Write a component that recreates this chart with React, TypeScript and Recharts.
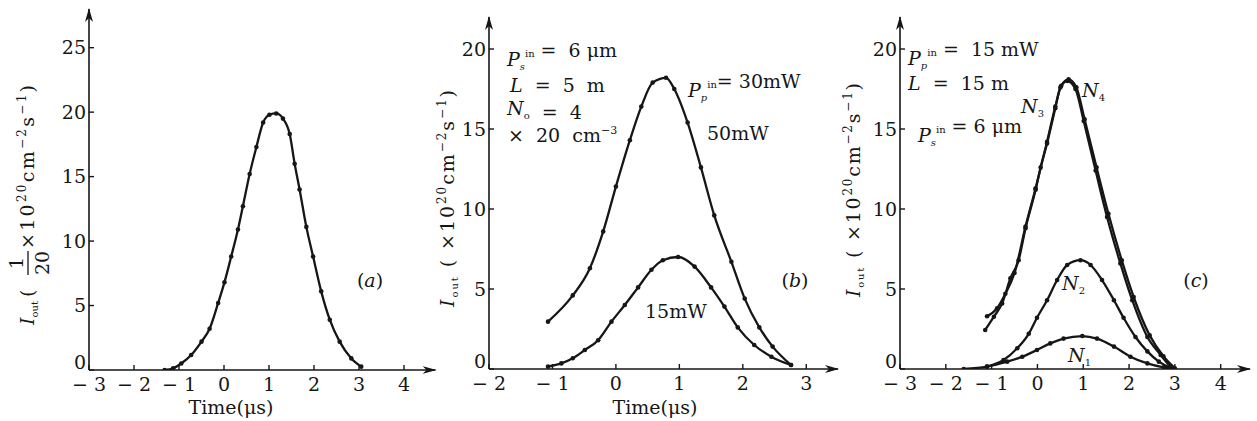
import React from 'react';
import { LineChart, Line, XAxis, YAxis } from 'recharts';

const FONT = "'DejaVu Serif', 'Liberation Serif', 'Times New Roman', serif";
const INK = '#161616';

// panel (a) – single pulse
const aTime = [-1.32, -1.13, -0.95, -0.73, -0.5, -0.32, -0.13, 0.01, 0.16, 0.31, 0.42, 0.57, 0.72, 0.87, 1.01, 1.16, 1.31, 1.46, 1.57, 1.68, 1.83, 1.98, 2.16, 2.35, 2.57, 2.83, 3.05];
const aOut = [0, 0.13, 0.5, 1.16, 2.2, 3.2, 5.2, 6.8, 8.8, 10.9, 12.7, 15.2, 17.3, 19.2, 19.8, 19.9, 19.5, 18.3, 16.0, 14.0, 11.1, 8.8, 6.1, 3.9, 2.2, 0.9, 0.26];

// panel (b) – pump power 30/50 mW and 15 mW
const b30Time = [-1.07, -0.68, -0.41, -0.2, 0.0, 0.22, 0.4, 0.58, 0.79, 0.92, 1.13, 1.34, 1.55, 1.82, 2.03, 2.26, 2.47, 2.76];
const b30Out = [2.96, 4.6, 6.3, 8.6, 11.4, 14.3, 16.4, 17.9, 18.2, 17.5, 15.4, 12.6, 9.6, 6.7, 4.4, 2.6, 1.4, 0.25];
const b15Time = [-1.07, -0.86, -0.68, -0.49, -0.28, -0.07, 0.14, 0.35, 0.56, 0.74, 0.98, 1.24, 1.5, 1.71, 1.92, 2.18, 2.45, 2.76];
const b15Out = [0.15, 0.35, 0.67, 1.19, 1.8, 2.96, 4.0, 5.1, 6.2, 6.8, 7.0, 6.4, 5.1, 3.9, 2.6, 1.5, 0.77, 0.25];

// panel (c) – doping N1..N4
const cN4Time = [-1.1, -0.88, -0.7, -0.5, -0.26, -0.04, 0.21, 0.39, 0.52, 0.68, 0.85, 1.03, 1.29, 1.55, 1.84, 2.1, 2.45, 2.75, 3.0];
const cN4Out = [3.3, 3.8, 4.7, 6.0, 8.9, 11.3, 14.2, 16.4, 17.7, 18.1, 17.6, 15.6, 12.6, 9.7, 6.8, 4.5, 2.1, 0.8, 0.05];
const cN3Time = [-1.14, -0.95, -0.77, -0.59, -0.41, -0.26, -0.04, 0.07, 0.21, 0.39, 0.5, 0.65, 0.83, 1.01, 1.27, 1.52, 1.81, 2.07, 2.4, 2.69, 2.9];
const cN3Out = [2.44, 3.27, 4.1, 5.67, 6.8, 8.8, 11.2, 12.6, 14.1, 16.3, 17.6, 18.0, 17.5, 15.5, 12.4, 9.5, 6.6, 4.3, 2.0, 0.88, 0.15];
const cN2Time = [-1.1, -0.74, -0.44, -0.19, -0.01, 0.21, 0.43, 0.65, 0.94, 1.16, 1.41, 1.67, 1.88, 2.14, 2.4, 2.65, 2.94];
const cN2Out = [0.15, 0.56, 1.3, 2.2, 3.2, 4.3, 5.56, 6.5, 6.8, 6.5, 5.56, 4.3, 3.2, 2.0, 1.1, 0.46, 0.04];
const cN1Time = [-1.61, -1.1, -0.66, -0.33, -0.01, 0.28, 0.57, 0.98, 1.3, 1.67, 2.03, 2.4, 2.76, 2.97];
const cN1Out = [0, 0.15, 0.46, 0.77, 1.19, 1.6, 1.9, 2.06, 1.9, 1.4, 0.77, 0.35, 0.1, 0.02];

const aXTicks = [-3, -2, -1, 0, 1, 2, 3, 4];
const aYTicks = [0, 5, 10, 15, 20, 25];
const bXTicks = [-2, -1, 0, 1, 2, 3];
const bYTicks = [0, 5, 10, 15, 20];
const cXTicks = [-3, -2, -1, 0, 1, 2, 3, 4];
const cYTicks = [0, 5, 10, 15, 20];

const pts = (xs: number[], ys: number[]) => xs.map((t, i) => ({ t, v: ys[i] }));
const fmt = (v: number) => (v < 0 ? `− ${-v}` : `${v}`);

const XTick = (p: any) => {
  const axisY = p.y - 6;
  return (
    <g>
      <line x1={p.x} x2={p.x} y1={axisY} y2={axisY - 5} stroke={INK} strokeWidth={1.4} />
      <text x={p.x} y={axisY + 21} textAnchor="middle" fontSize={19} fontFamily={FONT} fill={INK} style={{ whiteSpace: 'pre' }}>
        {fmt(p.payload.value)}
      </text>
    </g>
  );
};

const YTick = (p: any) => {
  const axisX = p.x + 4;
  // the zero label sits a little above the x axis, as in the print
  const lift = p.payload.value === 0 ? -8 : 0;
  return (
    <g>
      <line x1={axisX} x2={axisX + 5} y1={p.y} y2={p.y} stroke={INK} strokeWidth={1.4} />
      <text x={axisX - 3} y={p.y + lift} dy="0.35em" textAnchor="end" fontSize={19} fontFamily={FONT} fill={INK}>
        {p.payload.value}
      </text>
    </g>
  );
};

const xLine = { stroke: INK, strokeWidth: 1.6, markerEnd: 'url(#axArrow)' };
const yLine = { stroke: INK, strokeWidth: 1.6, markerStart: 'url(#axArrow)' };
const dot = { r: 2.3, fill: INK, stroke: INK, strokeWidth: 0 };

const series = (key: string, data: { t: number; v: number }[]) => (
  <Line key={key} data={data} dataKey="v" type="monotone" stroke={INK} strokeWidth={2.3} dot={dot} activeDot={false} isAnimationActive={false} />
);

// P with a subscript followed by the superscript "in"
const PSym = ({ sub }: { sub: string }) => (
  <>
    <tspan fontStyle="italic">P</tspan>
    <tspan fontSize={10} dy={4} fontStyle="italic">{sub}</tspan>
    <tspan fontSize={10} dy={-13}>in</tspan>
    <tspan dy={9}>{''}</tspan>
  </>
);

const NSym = ({ sub }: { sub: string }) => (
  <>
    <tspan fontStyle="italic">N</tspan>
    <tspan fontSize={10} dy={4}>{sub}</tspan>
    <tspan dy={-4}>{''}</tspan>
  </>
);

const TitleTail = () => (
  <>
    <tspan>×10</tspan>
    <tspan fontSize={12} dy={-8}>20</tspan>
    <tspan dy={8}>cm</tspan>
    <tspan fontSize={12} dy={-8}>−2</tspan>
    <tspan dy={8}>s</tspan>
    <tspan fontSize={12} dy={-8}>−1</tspan>
    <tspan dy={8}>)</tspan>
  </>
);

const txt = { fontFamily: FONT, fontSize: 19, fill: INK, style: { whiteSpace: 'pre' as const } };

const Overlay = () => (
  <svg width={1257} height={421} style={{ position: 'absolute', left: 0, top: 0, pointerEvents: 'none' }}>
    <defs>
      <marker id="axArrow" viewBox="0 0 14 8" refX={13} refY={4} markerWidth={14} markerHeight={8} markerUnits="userSpaceOnUse" orient="auto-start-reverse">
        <path d="M0,0 L14,4 L0,8 L4,4 z" fill={INK} />
      </marker>
    </defs>

    {/* panel (a) */}
    <g transform="translate(34,325) rotate(-90)">
      <text x={0} y={0} {...txt}>
        <tspan fontStyle="italic">I</tspan>
        <tspan fontSize={10} dy={4}>out</tspan>
        <tspan dy={-4} dx={4}>(</tspan>
      </text>
      <text x={62} y={-11} {...txt} textAnchor="middle">1</text>
      <line x1={50} x2={74} y1={-6} y2={-6} stroke={INK} strokeWidth={1.3} />
      <text x={62} y={15} {...txt} textAnchor="middle">20</text>
      <text x={76} y={0} {...txt} textLength={164} lengthAdjust="spacing">
        <TitleTail />
      </text>
    </g>
    <text x={370} y={287} {...txt} textAnchor="middle">(<tspan fontStyle="italic">a</tspan>)</text>
    <text x={231} y={414} {...txt} textAnchor="middle">Time(μs)</text>

    {/* panel (b) */}
    <g transform="translate(454,307) rotate(-90)">
      <text x={0} y={0} {...txt} textLength={217} lengthAdjust="spacing">
        <tspan fontStyle="italic">I</tspan>
        <tspan fontSize={10} dy={4}>out</tspan>
        <tspan dy={-4}> ( </tspan>
        <TitleTail />
      </text>
    </g>
    <text x={507} y={66} {...txt}><PSym sub="s" />{' =  6 μm'}</text>
    <text x={510} y={92} {...txt}><tspan fontStyle="italic">L</tspan>{'  =  5  m'}</text>
    <text x={507} y={115} {...txt}><NSym sub="o" />{'  =  4'}</text>
    <text x={508} y={142} {...txt}>{'×  20  cm'}<tspan fontSize={11} dy={-8}>−3</tspan></text>
    <text x={688} y={97} {...txt}><PSym sub="p" />{'= 30mW'}</text>
    <text x={707} y={140} {...txt}>50mW</text>
    <text x={645} y={318} {...txt}>15mW</text>
    <text x={795} y={287} {...txt} textAnchor="middle">(<tspan fontStyle="italic">b</tspan>)</text>
    <text x={655} y={414} {...txt} textAnchor="middle">Time(μs)</text>

    {/* panel (c) */}
    <g transform="translate(860,297) rotate(-90)">
      <text x={0} y={0} {...txt} textLength={214} lengthAdjust="spacing">
        <tspan fontStyle="italic">I</tspan>
        <tspan fontSize={10} dy={4}>out</tspan>
        <tspan dy={-4}> ( </tspan>
        <TitleTail />
      </text>
    </g>
    <text x={908} y={65} {...txt}><PSym sub="p" />{' =  15 mW'}</text>
    <text x={908} y={90} {...txt}><tspan fontStyle="italic">L</tspan>{'  =  15 m'}</text>
    <text x={918} y={142} {...txt}><PSym sub="s" />{' = 6 μm'}</text>
    <text x={1021} y={113} {...txt}><NSym sub="3" /></text>
    <text x={1082} y={97} {...txt}><NSym sub="4" /></text>
    <text x={1062} y={290} {...txt}><NSym sub="2" /></text>
    <text x={1068} y={362} {...txt}><NSym sub="1" /></text>
    <text x={1196} y={287} {...txt} textAnchor="middle">(<tspan fontStyle="italic">c</tspan>)</text>
  </svg>
);

const Panel = ({ left, width, margin, xDomain, yDomain, xTicks, yTicks, children }: any) => (
  <div style={{ position: 'absolute', left, top: 0 }}>
    <LineChart width={width} height={421} margin={margin}>
      <XAxis dataKey="t" type="number" domain={xDomain} ticks={xTicks} interval={0} allowDataOverflow height={50}
        tickSize={0} tickMargin={6} tickLine={false} axisLine={xLine} tick={(p: any) => <XTick {...p} />} />
      <YAxis type="number" domain={yDomain} ticks={yTicks} interval={0} allowDataOverflow width={60}
        tickSize={0} tickMargin={4} tickLine={false} axisLine={yLine} tick={(p: any) => <YTick {...p} />} />
      {children}
    </LineChart>
  </div>
);

export default function App() {
  return (
    <div style={{ position: 'absolute', left: 0, top: 0, width: 1257, height: 421, background: '#fff', fontFamily: FONT }}>
      <Panel left={0} width={440} margin={{ top: 9, right: 4.5, bottom: 1, left: 29 }}
        xDomain={[-3, 4.7]} yDomain={[0, 28]} xTicks={aXTicks} yTicks={aYTicks}>
        {series('a', pts(aTime, aOut))}
      </Panel>
      <Panel left={420} width={420} margin={{ top: 17, right: 2, bottom: 2, left: 9 }}
        xDomain={[-2, 3.5]} yDomain={[0, 22]} xTicks={bXTicks} yTicks={bYTicks}>
        {series('b30', pts(b30Time, b30Out))}
        {series('b15', pts(b15Time, b15Out))}
      </Panel>
      <Panel left={840} width={417} margin={{ top: 17, right: 7, bottom: 2, left: 0 }}
        xDomain={[-3, 4.64]} yDomain={[0, 22]} xTicks={cXTicks} yTicks={cYTicks}>
        {series('n4', pts(cN4Time, cN4Out))}
        {series('n3', pts(cN3Time, cN3Out))}
        {series('n2', pts(cN2Time, cN2Out))}
        {series('n1', pts(cN1Time, cN1Out))}
      </Panel>
      <Overlay />
    </div>
  );
}
